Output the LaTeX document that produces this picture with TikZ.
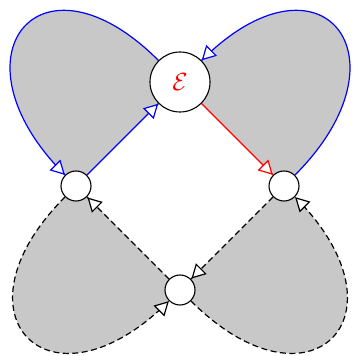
\documentclass[tikz,border=0pt]{standalone}
\usetikzlibrary{arrows.meta,decorations.markings}
\definecolor{loopgray}{RGB}{200,200,200}
\begin{document}
\begin{tikzpicture}[x=1pt,y=1pt,
  bignode/.style={circle,draw=black,fill=white,line width=1.1pt,minimum size=60pt,inner sep=0pt},
  smallnode/.style={circle,draw=black,fill=white,line width=1.1pt,minimum size=30pt,inner sep=0pt},
  conn/.style={line width=1.2pt,postaction={decorate},
    decoration={markings,mark=at position -0.2pt with {\arrow[solid,line width=1.2pt]{Triangle[fill=white,length=14pt,width=15pt]}}}},
  dashconn/.style={conn,black,dash pattern=on 6pt off 3.5pt}]
\useasboundingbox (0,0) rectangle (353,356);
\coordinate (Ec) at (180,274);
\coordinate (Lc) at (76,170);
\coordinate (Rc) at (284,170);
\coordinate (Bc) at (180,66);
\node[bignode,draw=none,fill=none] (E) at (Ec) {};
\node[smallnode,draw=none,fill=none] (L) at (Lc) {};
\node[smallnode,draw=none,fill=none] (R) at (Rc) {};
\node[smallnode,draw=none,fill=none] (B) at (Bc) {};
% fills
\fill[loopgray] (E.135) .. controls +(135:168) and +(135:168) .. (L.135) -- (L.center) -- (E.center) -- cycle;
\fill[loopgray] (R.45) .. controls +(45:168) and +(45:168) .. (E.45) -- (E.center) -- (R.center) -- cycle;
\fill[loopgray] (L.225) .. controls +(225:168) and +(225:168) .. (B.225) -- (B.center) -- (L.center) -- cycle;
\fill[loopgray] (B.315) .. controls +(315:168) and +(315:168) .. (R.315) -- (R.center) -- (B.center) -- cycle;
% connectors
\draw[conn,blue] (L) -- (E);
\draw[conn,blue] (E.135) .. controls +(135:168) and +(135:168) .. (L.135);
\draw[conn,red] (E) -- (R);
\draw[conn,blue] (R.45) .. controls +(45:168) and +(45:168) .. (E.45);
\draw[dashconn] (B) -- (L);
\draw[dashconn] (L.225) .. controls +(225:168) and +(225:168) .. (B.225);
\draw[dashconn] (R) -- (B);
\draw[dashconn] (B.315) .. controls +(315:168) and +(315:168) .. (R.315);
% nodes
\node[bignode] (En) at (Ec) {\fontsize{32}{32}\selectfont$\color{red}\mathcal{E}$};
\node[smallnode] (Ln) at (Lc) {};
\node[smallnode] (Rn) at (Rc) {};
\node[smallnode] (Bn) at (Bc) {};
\end{tikzpicture}
\end{document}
